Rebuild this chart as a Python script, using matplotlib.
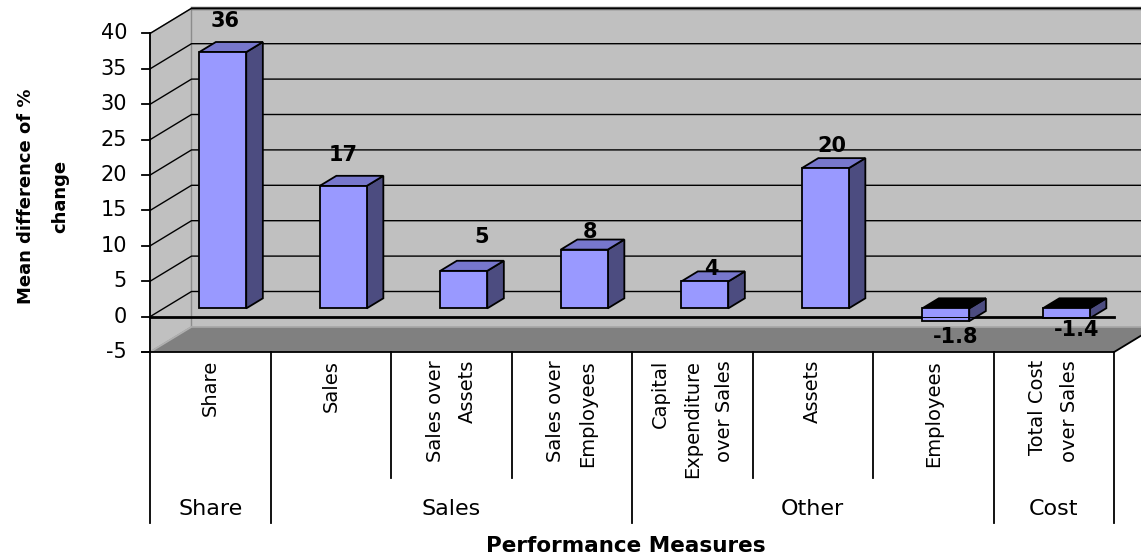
import matplotlib
matplotlib.use("Agg")
import matplotlib.pyplot as plt
from matplotlib.patches import Polygon
from matplotlib.transforms import offset_copy

# data
categories = [
    "Share",
    "Sales",
    "Sales over\nAssets",
    "Sales over\nEmployees",
    "Capital\nExpenditure\nover Sales",
    "Assets",
    "Employees",
    "Total Cost\nover Sales",
]
values = [36.2, 17.3, 5.3, 8.3, 3.8, 19.8, -1.8, -1.4]
value_labels = ["36", "17", "5", "8", "4", "20", "-1.8", "-1.4"]
groups = ["Share", "Sales", "Other", "Cost"]
group_sizes = [1, 3, 3, 1]
y_ticks = [-5, 0, 5, 10, 15, 20, 25, 30, 35, 40]

# layout of the fake 3d box (category units / value units)
PX_X = 120.5          # pixels per category
PX_Y = 7.08           # pixels per value unit
DX = 41.5 / PX_X      # depth shift of the back wall
DY = 25.2 / PX_Y
D0, D1 = 0.33, 0.73   # bar depth (front, back) as fraction of box depth
BAR_W = 0.39
YMIN, YMAX = -5, 40

# label offsets in pixels from the top-centre of each bar front face
label_offsets = [(2, 31), (0, 31), (18, 34), (6, 18), (7, 12), (7, 22), (10, -16), (10, -12)]

FRONT = "#9999ff"
SIDE = "#4c4c80"
TOP = "#7777cc"
WALL = "#c0c0c0"
FLOOR = "#808080"


def proj(x, v, d):
    return (x + d * DX, v + d * DY)


fig = plt.figure(figsize=(11.41, 5.56), dpi=100)
ax = fig.add_axes([0, 0, 1, 1])
ax.set_axis_off()
ax.set_xlim(-150 / PX_X, (1141 - 150) / PX_X)
ax.set_ylim(-(556 - 316.7) / PX_Y, 316.7 / PX_Y)

n = len(categories)

# walls and floor
back = [proj(0, YMIN, 1), proj(n, YMIN, 1), proj(n, YMAX, 1), proj(0, YMAX, 1)]
ax.add_patch(Polygon(back, closed=True, fc=WALL, ec="none", zorder=1))
side = [(0, YMIN), proj(0, YMIN, 1), proj(0, YMAX, 1), (0, YMAX)]
ax.add_patch(Polygon(side, closed=True, fc=WALL, ec="#8c8c8c", lw=1, zorder=1))
floor = [(0, YMIN), (n, YMIN), proj(n, YMIN, 1), proj(0, YMIN, 1)]
ax.add_patch(Polygon(floor, closed=True, fc=FLOOR, ec="none", zorder=1))
ax.plot([0, DX], [YMIN, YMIN + DY], color="#b0b0b0", lw=1.2, zorder=2)
ax.plot([DX, n + DX], [YMIN + DY, YMIN + DY], color="#a8a8a8", lw=1.2, zorder=2)
ax.plot([DX, n + DX], [YMAX + DY, YMAX + DY], color="#6a6a6a", lw=2.5, zorder=2)

# gridlines on side + back wall
for v in y_ticks[1:]:
    ax.plot([0, DX, n + DX], [v, v + DY, v + DY], color="black", lw=1, zorder=2)

# zero line on the front plane
ax.plot([0, n], [0, 0], color="black", lw=2, zorder=3)

# bars
for i, v in enumerate(values):
    x0 = i + 0.49 - BAR_W / 2
    x1 = x0 + BAR_W
    lo, hi = min(0, v), max(0, v)
    front = [proj(x0, lo, D0), proj(x1, lo, D0), proj(x1, hi, D0), proj(x0, hi, D0)]
    right = [proj(x1, lo, D0), proj(x1, lo, D1), proj(x1, hi, D1), proj(x1, hi, D0)]
    top = [proj(x0, hi, D0), proj(x1, hi, D0), proj(x1, hi, D1), proj(x0, hi, D1)]
    top_col = TOP if v >= 0 else "black"
    for poly, col in ((right, SIDE), (top, top_col), (front, FRONT)):
        ax.add_patch(Polygon(poly, closed=True, fc=col, ec="black", lw=1.3,
                             joinstyle="miter", zorder=4))

    cx, cy = proj(i + 0.49, v, D0)
    ox, oy = label_offsets[i]
    ax.text(cx, cy, value_labels[i], fontsize=15, fontweight="bold",
            ha="center", va="center", zorder=6,
            transform=offset_copy(ax.transData, fig, x=ox, y=oy, units="dots"))

# thin zero line seen through the negative bars
ax.plot([0, n], [0, 0], color="black", lw=0.7, zorder=5)

# value axis
tick_len = 8 / PX_X
box_inner = -(478 - 316.7) / PX_Y
box_outer = -(523 - 316.7) / PX_Y
ax.plot([0, 0], [YMAX, box_outer], color="black", lw=1.3, zorder=5)
for v in y_ticks:
    ax.plot([-tick_len, 0], [v, v], color="black", lw=1.3, zorder=5)
    ax.text(0, v, str(v), fontsize=15, ha="right", va="center",
            transform=offset_copy(ax.transData, fig, x=-23, y=0, units="dots"))

ax.text(-(150 - 43) / PX_X, 17, "Mean difference of %\nchange", fontsize=13,
        fontweight="bold", rotation=90, ha="center", va="center", linespacing=2.15)

# category label box
ax.plot([-tick_len, n], [YMIN, YMIN], color="black", lw=1.3, zorder=5)
ax.plot([n, n + DX], [YMIN, YMIN + DY], color="black", lw=1.3, zorder=5)
for i, name in enumerate(categories):
    ax.text(i + 0.5, YMIN, name, fontsize=14, rotation=90, rotation_mode="anchor",
            ha="right", va="center", multialignment="right", linespacing=1.85,
            transform=offset_copy(ax.transData, fig, x=0, y=-8, units="dots"))

edges = [0]
for s in group_sizes:
    edges.append(edges[-1] + s)
for k in range(1, n + 1):
    bottom = box_outer if k in edges else box_inner
    ax.plot([k, k], [YMIN, bottom], color="black", lw=1.3, zorder=5)

group_y = -(509 - 316.7) / PX_Y
for g, name in enumerate(groups):
    ax.text((edges[g] + edges[g + 1]) / 2, group_y, name, fontsize=16,
            ha="center", va="center")

ax.text(n / 2, -(546 - 316.7) / PX_Y, "Performance Measures", fontsize=15.5,
        fontweight="bold", ha="center", va="center",
        transform=offset_copy(ax.transData, fig, x=-6, y=0, units="dots"))

fig.savefig("out.png", dpi=100)
